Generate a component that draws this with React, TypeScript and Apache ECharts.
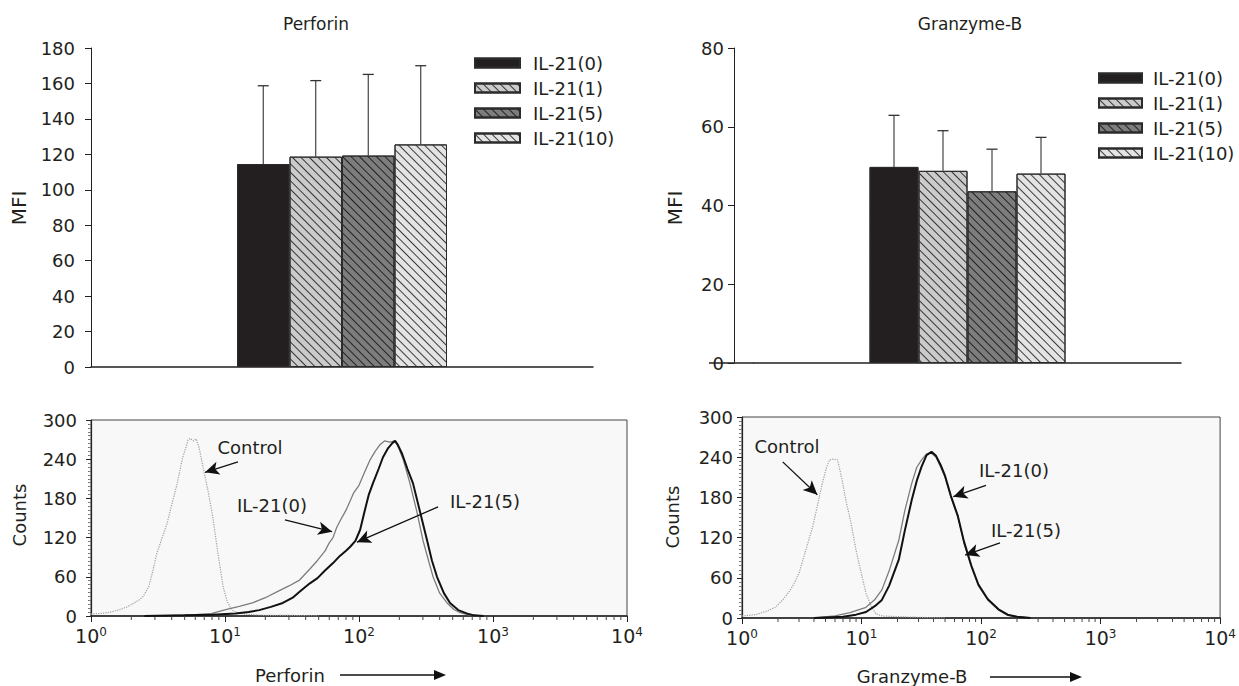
import React, { useEffect, useRef } from "react";
import * as echarts from "echarts";

// ---------- data ----------
const groups = ["IL-21(0)", "IL-21(1)", "IL-21(5)", "IL-21(10)"];
const perforinMFI = [114.5, 118.7, 119.3, 125.6];
const perforinSD = [44.2, 42.9, 45.8, 44.4];
const granzymeMFI = [49.8, 48.8, 43.6, 48.1];
const granzymeSD = [13.1, 10.2, 10.7, 9.2];

const perforinMfiTicks = [0, 180, 20];
const granzymeMfiTicks = [0, 80, 20];
const countTicks = [0, 300, 60];
const logRange = [1, 10000];
const logMinorTicks = [
  2, 3, 4, 5, 6, 7, 8, 9,
  20, 30, 40, 50, 60, 70, 80, 90,
  200, 300, 400, 500, 600, 700, 800, 900,
  2000, 3000, 4000, 5000, 6000, 7000, 8000, 9000,
];

// Perforin histograms [fluorescence, counts]
const perfControl = [
  [1, 3], [1.2, 4], [1.4, 6], [1.6, 9], [1.86, 14], [2.1, 20], [2.3, 25], [2.45, 30],
  [2.7, 45], [2.9, 70], [3.1, 96], [3.4, 120], [3.7, 142], [4.0, 170], [4.4, 203],
  [4.8, 240], [5.3, 269], [5.5, 272], [5.8, 268], [6.1, 271], [6.4, 258], [6.9, 225],
  [7.5, 190], [8.1, 152], [8.8, 100], [9.7, 44], [10.4, 22], [10.9, 14], [11.5, 8],
  [12.5, 5], [14, 3], [16, 2], [20, 1], [30, 1], [50, 0],
];
const perfIL0 = [
  [2.5, 0], [4, 1], [6, 2], [8, 4], [10.3, 10], [13, 15], [16, 20], [20, 28], [25, 38],
  [30, 46], [36, 55], [43, 72], [49, 85], [56, 100], [60, 112], [64, 120], [68, 135],
  [72, 145], [80, 162], [91, 188], [100, 200], [110, 220], [121, 239], [132, 252],
  [143, 262], [155, 268], [170, 266], [186, 268], [200, 255], [215, 238], [240, 203],
  [270, 160], [300, 116], [330, 85], [357, 60], [400, 35], [454, 20], [510, 10],
  [568, 5], [650, 2], [800, 0],
];
const perfIL5 = [
  [2.5, 0], [5, 1], [8, 2], [12, 4], [15, 6], [18, 9], [22, 14], [27, 20], [32, 28],
  [36, 37], [43, 50], [49, 58], [56, 70], [64, 81], [72, 92], [80, 100], [86, 106],
  [94, 115], [102, 132], [110, 160], [118, 185], [127, 203], [140, 225], [151, 243],
  [165, 257], [178, 265], [186, 268], [195, 262], [210, 248], [230, 225], [253, 203],
  [285, 160], [322, 116], [350, 85], [382, 60], [430, 35], [478, 20], [550, 9],
  [636, 4], [720, 1], [850, 0],
];

// Granzyme-B histograms
const granControl = [
  [1, 3], [1.3, 5], [1.6, 10], [1.9, 16], [2.19, 27], [2.5, 40], [2.7, 50], [3.0, 67],
  [3.4, 100], [3.9, 136], [4.3, 170], [4.7, 201], [5.1, 225], [5.4, 236], [5.8, 237],
  [6.3, 236], [6.8, 210], [7.4, 176], [8.2, 140], [9.0, 101], [10, 65], [10.9, 37],
  [12, 18], [13.2, 6], [15, 3], [20, 2], [30, 1], [50, 0],
];
const granIL0 = [
  [4, 0], [6, 3], [8, 8], [10.9, 16], [13, 28], [14.8, 42], [17, 70], [20.5, 116],
  [23, 160], [26.3, 201], [29, 225], [31.8, 236], [35, 245], [38.5, 246], [42, 240],
  [46, 225], [50, 210], [56, 180], [64, 151], [72, 112], [83, 76], [95, 48], [114, 27],
  [140, 12], [167, 4], [200, 2], [260, 0],
];
const granIL5 = [
  [4, 0], [7, 2], [9, 5], [10.9, 9], [13, 18], [14.8, 27], [17, 48], [20.5, 87],
  [23, 130], [26.3, 176], [29, 205], [31.8, 226], [35, 243], [38.5, 248], [42, 242],
  [46, 228], [50, 212], [56, 182], [64, 152], [72, 114], [83, 78], [95, 50], [114, 28],
  [140, 13], [167, 5], [200, 2], [260, 0],
];

// annotation arrows (tail -> head) in data coordinates
const perfArrows = [
  [[12.5, 236], [7.1, 220]],
  [[28, 147], [63, 129]],
  [[389, 167], [96.6, 113]],
];
const granArrows = [
  [[2.19, 233], [4.27, 184]],
  [[110, 198], [58.6, 181]],
  [[144, 112], [73.6, 94]],
];

// ---------- styles ----------
const FONT = "DejaVu Sans";
const INK = "#231f20";
const barFills = ["#231f20", "#cbcbcb", "#7d7d7d", "#e4e4e4"];
const hatch = (c: string) => ({
  symbol: "rect",
  symbolSize: 1,
  color: c,
  dashArrayX: [1, 0],
  dashArrayY: [0.9, 4.1],
  rotation: Math.PI / 4,
});
const barDecals = [hatch("#231f20"), hatch("#333"), hatch("#222"), hatch("#3a3a3a")];

export default function App() {
  const ref = useRef<HTMLDivElement>(null);
  useEffect(() => {
    if (!ref.current) return;
    const chart = echarts.init(ref.current, null, { renderer: "svg" });

    const barSeries = (
      grid: number,
      means: number[],
      sds: number[],
      barW: number
    ) => {
      const out: any[] = [];
      means.forEach((m, i) => {
        out.push({
          type: "bar",
          name: groups[i],
          xAxisIndex: grid,
          yAxisIndex: grid,
          data: [m],
          barWidth: barW,
          barGap: "0%",
          itemStyle: {
            color: barFills[i],
            borderColor: "#2b2b2b",
            borderWidth: 1,
            decal: barDecals[i],
          },
          emphasis: { disabled: true },
        });
      });
      means.forEach((m, i) => {
        out.push({
          type: "custom",
          name: "err" + grid + "-" + i,
          xAxisIndex: grid,
          yAxisIndex: grid,
          z: 5,
          clip: false,
          data: [[0, m, sds[i]]],
          encode: { x: 0, y: 1 },
          renderItem: (params: any, api: any) => {
            const v = api.value(1);
            const e = api.value(2);
            const p0 = api.coord([0, v]);
            const p1 = api.coord([0, v + e]);
            const x = p0[0] + (i - 1.5) * barW;
            return {
              type: "group",
              children: [
                {
                  type: "line",
                  shape: { x1: x, y1: p0[1], x2: x, y2: p1[1] },
                  style: { stroke: "#333", lineWidth: 1.1 },
                },
                {
                  type: "line",
                  shape: { x1: x - 5.5, y1: p1[1], x2: x + 5.5, y2: p1[1] },
                  style: { stroke: "#333", lineWidth: 1.3 },
                },
              ],
            };
          },
        });
      });
      return out;
    };

    const histSeries = (
      grid: number,
      tag: string,
      ctrl: number[][],
      il0: number[][],
      il5: number[][],
      arrows: number[][][]
    ) => [
      {
        type: "line",
        name: tag + " control",
        xAxisIndex: grid,
        yAxisIndex: grid,
        data: ctrl,
        showSymbol: false,
        lineStyle: { color: "#a0a0a0", width: 1.2, type: "dotted" },
        z: 3,
      },
      {
        type: "line",
        name: tag + " il0",
        xAxisIndex: grid,
        yAxisIndex: grid,
        data: il0,
        showSymbol: false,
        lineStyle: { color: "#7c7c7c", width: 1.3 },
        z: 3,
      },
      {
        type: "line",
        name: tag + " il5",
        xAxisIndex: grid,
        yAxisIndex: grid,
        data: il5,
        showSymbol: false,
        lineStyle: { color: "#111", width: 2 },
        z: 4,
        markLine: {
          silent: true,
          symbol: ["none", "arrow"],
          symbolSize: [10, 14],
          lineStyle: { color: "#111", width: 1.3, type: "solid" },
          label: { show: false },
          emphasis: { disabled: true },
          data: arrows.map((a) => [{ coord: a[0] }, { coord: a[1] }]),
        },
      },
      {
        type: "custom",
        name: tag + " minor ticks",
        xAxisIndex: grid,
        yAxisIndex: grid,
        clip: false,
        silent: true,
        data: logMinorTicks.map((t) => [t, 0]),
        encode: { x: 0, y: 1 },
        renderItem: (params: any, api: any) => {
          const p = api.coord([api.value(0), 0]);
          return {
            type: "line",
            shape: { x1: p[0], y1: p[1], x2: p[0], y2: p[1] + 4 },
            style: { stroke: "#444", lineWidth: 1 },
          };
        },
      },
    ];

    const mfiAxis = (grid: number, ticks: number[], margin: number, offset: number) => ({
      type: "value",
      gridIndex: grid,
      min: ticks[0],
      max: ticks[1],
      interval: ticks[2],
      offset,
      axisLine: { show: true, lineStyle: { color: INK, width: 1 } },
      axisTick: { show: true, length: 6, lineStyle: { color: INK } },
      axisLabel: { fontSize: 18, color: INK, fontFamily: FONT, margin },
      splitLine: { show: false },
    });

    const catAxis = (grid: number) => ({
      type: "category",
      gridIndex: grid,
      data: ["MFI"],
      axisLine: { show: true, lineStyle: { color: INK, width: 1.5 } },
      axisTick: { show: false },
      axisLabel: { show: false },
    });

    const logAxis = (grid: number) => ({
      type: "log",
      logBase: 10,
      gridIndex: grid,
      min: logRange[0],
      max: logRange[1],
      splitNumber: 4,
      axisLine: { show: true, lineStyle: { color: "#222", width: 1.5 } },
      axisTick: { show: true, length: 6, lineStyle: { color: "#222" } },
      splitLine: { show: false },
      axisLabel: {
        color: INK,
        fontFamily: FONT,
        fontSize: 19,
        margin: 10,
        formatter: (v: number) => "10{s|" + Math.round(Math.log10(v)) + "}",
        rich: {
          s: { fontSize: 12, fontFamily: FONT, color: INK, verticalAlign: "top", lineHeight: 12 },
        },
      },
    });

    const countAxis = (grid: number, margin: number) => ({
      type: "value",
      gridIndex: grid,
      min: countTicks[0],
      max: countTicks[1],
      interval: countTicks[2],
      axisLine: { show: true, lineStyle: { color: "#222", width: 1.2 } },
      axisTick: { show: true, length: 5, lineStyle: { color: "#222" } },
      minorTick: { show: true, splitNumber: 10, length: 3, lineStyle: { color: "#777" } },
      axisLabel: { fontSize: 18, color: INK, fontFamily: FONT, margin },
      splitLine: { show: false },
    });

    const txt = (x: number, y: number, text: string, size = 18, rot = 0, align = "center") => ({
      type: "text",
      x,
      y,
      rotation: rot,
      style: {
        text,
        fill: INK,
        font: `${size}px "${FONT}"`,
        textAlign: align,
        textVerticalAlign: "middle",
      },
      silent: true,
    });

    const arrowRight = (x1: number, x2: number, y: number) => [
      {
        type: "line",
        shape: { x1, y1: y, x2: x2 - 10, y2: y },
        style: { stroke: "#111", lineWidth: 1.5 },
      },
      {
        type: "polygon",
        shape: { points: [[x2 - 12, y - 5], [x2, y], [x2 - 12, y + 5]] },
        style: { fill: "#111" },
      },
    ];

    const legend = (left: number, top: number, pad: number, w: number) => ({
      data: groups,
      orient: "vertical",
      left,
      top,
      icon: "rect",
      itemWidth: w,
      itemHeight: 9,
      itemGap: 7,
      selectedMode: false,
      textStyle: {
        fontSize: 18,
        fontFamily: FONT,
        color: INK,
        padding: [0, 0, 0, pad],
        lineHeight: 18,
      },
    });

    chart.setOption({
      animation: false,
      aria: { enabled: true, decal: { show: true } },
      textStyle: { fontFamily: FONT },
      grid: [
        { left: 91, top: 48, width: 502, height: 319 },
        { left: 754, top: 48, width: 427, height: 315 },
        {
          left: 91, top: 420, width: 536, height: 196,
          show: true, backgroundColor: "#f8f8f8", borderColor: "#444", borderWidth: 1,
        },
        {
          left: 742, top: 417, width: 482, height: 201,
          show: true, backgroundColor: "#f8f8f8", borderColor: "#444", borderWidth: 1,
        },
      ],
      legend: [legend(469, 49, 8, 45), legend(1093, 64, 6, 43)],
      xAxis: [catAxis(0), catAxis(1), logAxis(2), logAxis(3)],
      yAxis: [
        mfiAxis(0, perforinMfiTicks, 16, 0),
        mfiAxis(1, granzymeMfiTicks, 10, 20),
        countAxis(2, 14),
        countAxis(3, 9),
      ],
      series: [
        ...barSeries(0, perforinMFI, perforinSD, 52.5),
        ...barSeries(1, granzymeMFI, granzymeSD, 49),
        ...histSeries(2, "perforin", perfControl, perfIL0, perfIL5, perfArrows),
        ...histSeries(3, "granzyme", granControl, granIL0, granIL5, granArrows),
      ],
      graphic: [
        txt(316, 24, "Perforin", 17),
        txt(970, 24, "Granzyme-B", 17),
        txt(19, 208, "MFI", 20, Math.PI / 2),
        txt(675, 208, "MFI", 20, Math.PI / 2),
        txt(19, 515, "Counts", 18, Math.PI / 2),
        txt(672, 517, "Counts", 18, Math.PI / 2),
        txt(290, 675, "Perforin", 18),
        txt(912, 676, "Granzyme-B", 18),
        ...arrowRight(340, 446, 675),
        ...arrowRight(990, 1082, 677),
        {
          type: "line",
          shape: { x1: 709, y1: 363, x2: 754, y2: 363 },
          style: { stroke: INK, lineWidth: 1.5 },
        },
        txt(250, 447, "Control"),
        txt(272, 505, "IL-21(0)"),
        txt(485, 501, "IL-21(5)"),
        txt(787, 446, "Control"),
        txt(1014, 470, "IL-21(0)"),
        txt(1026, 530, "IL-21(5)"),
      ],
    });
    return () => chart.dispose();
  }, []);
  return (
    <div
      ref={ref}
      style={{ position: "fixed", left: 0, top: 0, width: 1239, height: 686, background: "#fff" }}
    />
  );
}
